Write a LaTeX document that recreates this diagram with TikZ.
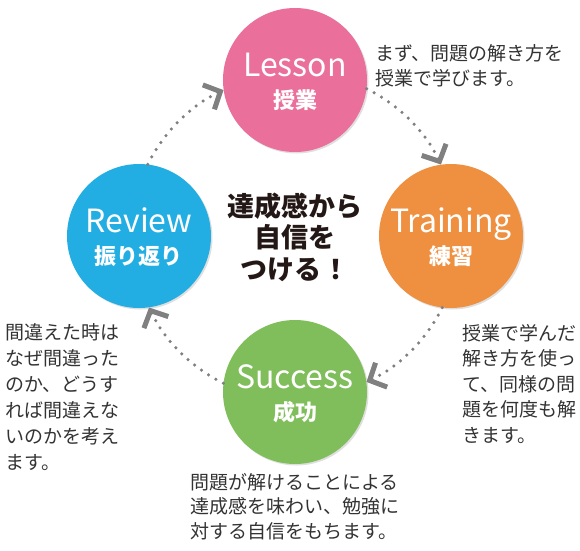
\documentclass[tikz,border=0pt]{standalone}
\usepackage{fontspec}
\setmainfont{Noto Sans CJK JP}
\usetikzlibrary{arrows.meta, shadows, positioning}
\definecolor{lessonpink}{RGB}{234,111,154}
\definecolor{trainorange}{RGB}{239,143,64}
\definecolor{reviewblue}{RGB}{34,174,226}
\definecolor{successgreen}{RGB}{128,190,92}
\definecolor{dotgray}{RGB}{128,128,128}
\definecolor{notegray}{RGB}{51,51,51}

\begin{document}
\begin{tikzpicture}[x=1pt, y=1pt,
  stage/.style={circle, minimum size=144pt, inner sep=0pt, fill=#1,
    drop shadow={shadow xshift=1.5pt, shadow yshift=-1.5pt, opacity=0.25}},
  stagetitle/.style={text=white, anchor=base, inner sep=0pt, font=\fontsize{32}{32}\selectfont},
  stagesub/.style={text=white, inner sep=0pt, font=\bfseries\fontsize{22}{22}\selectfont},
  stagenote/.style={text=notegray, anchor=north west, align=left, inner sep=0pt, font=\fontsize{19}{25.5}\selectfont},
  cyclearrow/.style={dotgray, line width=3.5pt, line cap=round, dash pattern=on 0pt off 8.5pt,
    -{Straight Barb[length=13pt, width=27pt, line width=5pt 0]}, bend left=19, looseness=0.88}]
  \useasboundingbox (-295,-314) rectangle (285,236);

  % the four stages
  \node[stage=lessonpink]   (lesson)   at (0,156)  {};
  \node[stage=trainorange]  (training) at (156,0)  {};
  \node[stage=successgreen] (success)  at (0,-156) {};
  \node[stage=reviewblue]   (review)   at (-156,0) {};

  \node[stagetitle] (lessont)   at ([yshift=4pt]lesson.center)   {Lesson};
  \node[stagesub]   (lessons)   at ([yshift=-20pt]lesson.center) {授業};
  \node[stagetitle] (trainingt) at ([yshift=4pt]training.center)   {Training};
  \node[stagesub]   (trainings) at ([yshift=-20pt]training.center) {練習};
  \node[stagetitle] (successt)  at ([yshift=4pt]success.center)   {Success};
  \node[stagesub]   (successs)  at ([yshift=-20pt]success.center) {成功};
  \node[stagetitle] (reviewt)   at ([yshift=4pt]review.center)   {Review};
  \node[stagesub]   (reviews)   at ([yshift=-20pt]review.center) {振り返り};

  % dotted arcs
  \draw[cyclearrow] (review.83)    to (lesson.188);
  \draw[cyclearrow] (lesson.-7)    to (training.98);
  \draw[cyclearrow] (training.-97) to (success.8);
  \draw[cyclearrow] (success.173)  to (review.278);

  \node[align=center, text={rgb,255:red,35;green,24;blue,21}, font=\bfseries\fontsize{27}{31.5}\selectfont] (goal) at (0,-1)
    {達成感から\\自信を\\つける！};

  % notes
  \node[stagenote] (lessonnote) at (80,192) {まず、問題の解き方を\\授業で学びます。};
  \node[stagenote] (trainingnote) at (167,-88) {授業で学んだ\\解き方を使っ\\て、同様の問\\題を何度も解\\きます。};
  \node[stagenote, font=\fontsize{19}{26}\selectfont] (reviewnote) at (-290,-87) {間違えた時は\\なぜ間違った\\のか、どうす\\れば間違えな\\いのかを考え\\ます。};
  \node[stagenote, font=\fontsize{19}{24.5}\selectfont] (successnote) at (-105,-237) {問題が解けることによる\\達成感を味わい、勉強に\\対する自信をもちます。};
\end{tikzpicture}
\end{document}
